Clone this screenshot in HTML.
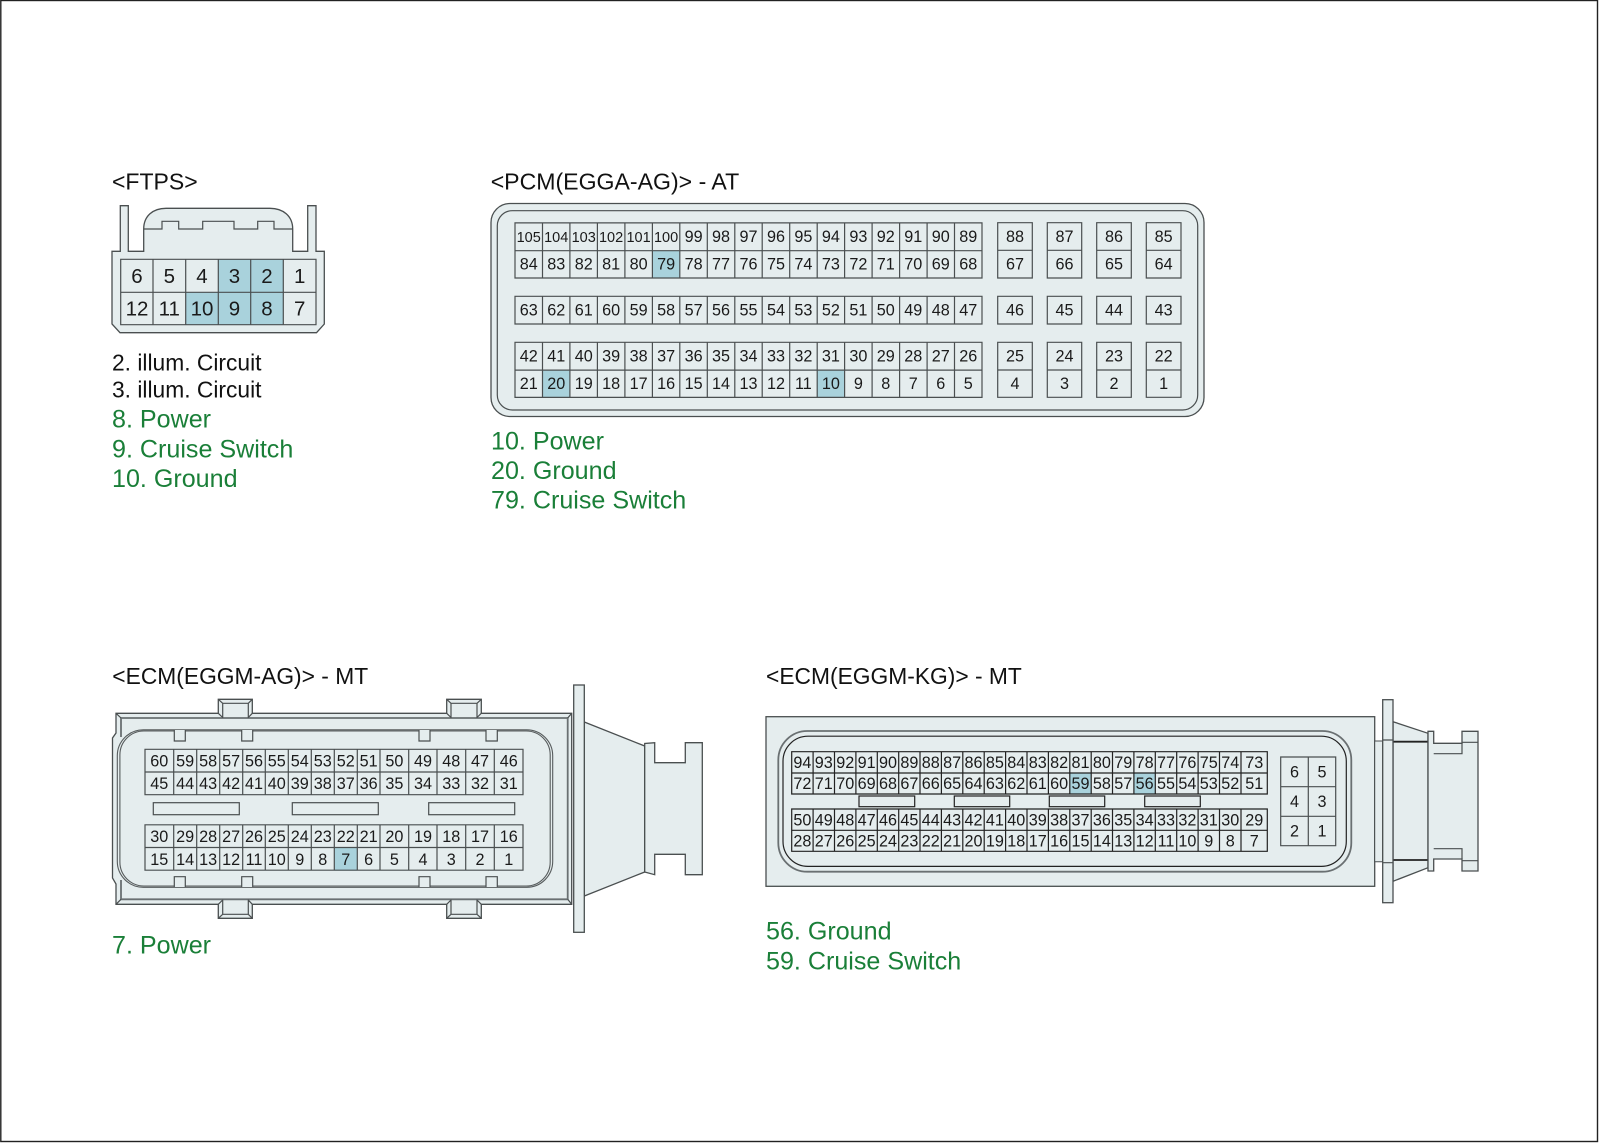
<!DOCTYPE html>
<html><head><meta charset="utf-8">
<style>
html,body{margin:0;padding:0;background:#fff}
svg{display:block}
text{font-family:"Liberation Sans",sans-serif}
.n text{text-anchor:middle;font-size:16.2px;fill:#1a1a1a}
.s text{font-size:14.5px}
.f text{font-size:20.5px}
.h{font-size:22.8px;fill:#111}
.g{font-size:25.1px;fill:#1a7f38}
.b{fill:#e5edee;stroke:#4a4f50;stroke-width:1.3}
.l{fill:none;stroke:#4a4f50;stroke-width:1.2}
.k{fill:none;stroke:#222;stroke-width:1.2}
.t{fill:none;stroke:#6a7072;stroke-width:1.8}
.hl{fill:#a9d2dc}
</style></head><body>
<svg width="1600" height="1143" viewBox="0 0 1600 1143" xmlns="http://www.w3.org/2000/svg">
<rect width="1600" height="1143" fill="#fff"/>
<rect x="0.8" y="0.5" width="1596.7" height="1141" fill="none" stroke="#222" stroke-width="1.4"/>

<!-- FTPS -->
<path class="b" d="M120.3 252V205.7H128.3V251.3H143.7V229C143.7 216 153 208.3 166 208.3H270C283 208.3 292.7 216 292.7 229V251.3H307.7V205.7H316V251.3H324.3V324L316.5 332.7H120L112 324V251.3H120.3Z"/>
<path class="l" d="M143.7 229H162V221.3H178.7V229H202.7V221.3H234V229H257.7V221.3H274V229H292.7"/>
<rect class="hl" x="218.3" y="259.3" width="65" height="33"/>
<rect class="hl" x="185.7" y="292.3" width="97.6" height="32.4"/>
<path class="l" d="M120.7 259.3H316V324.7H120.7ZM120.7 292.3H316M153 259.3V324.7M185.7 259.3V324.7M218.3 259.3V324.7M250.7 259.3V324.7M283.3 259.3V324.7"/>
<g class="n f">
<g transform="translate(0,282.8)"><text x="137">6</text><text x="169.3">5</text><text x="202">4</text><text x="234.5">3</text><text x="267">2</text><text x="299.7">1</text></g>
<g transform="translate(0,315.5)"><text x="137">12</text><text x="169.3">11</text><text x="202">10</text><text x="234.5">9</text><text x="267">8</text><text x="299.7">7</text></g>
</g>
<text class="h" x="112" y="189.3" style="font-size:23px">&lt;FTPS&gt;</text>
<text class="h" x="112" y="370.3">2. illum. Circuit</text>
<text class="h" x="112" y="397.7">3. illum. Circuit</text>
<text class="g" x="112" y="427.7">8. Power</text>
<text class="g" x="112" y="457.3">9. Cruise Switch</text>
<text class="g" x="112" y="487">10. Ground</text>

<!-- PCM -->
<rect class="b" x="491" y="203.5" width="713" height="213" rx="19"/>
<rect class="l" x="497.3" y="210.7" width="700.4" height="199.3" rx="15"/>
<rect class="hl" x="652.4" y="250.7" width="27.4" height="27.3"/>
<rect class="hl" x="542.5" y="370" width="27.4" height="27.3"/>
<rect class="hl" x="817.2" y="370" width="27.4" height="27.3"/>
<path id="pv" class="l" d="M515 222.9H982V278H515ZM515 250.7H982M542.5 222.9V278M569.9 222.9V278M597.4 222.9V278M624.9 222.9V278M652.4 222.9V278M679.8 222.9V278M707.3 222.9V278M734.8 222.9V278M762.2 222.9V278M789.7 222.9V278M817.2 222.9V278M844.6 222.9V278M872.1 222.9V278M899.6 222.9V278M927.1 222.9V278M954.5 222.9V278"/>
<use href="#pv" y="119.4"/>
<path class="l" d="M515 296.3H982V324H515ZM542.5 296.3V324M569.9 296.3V324M597.4 296.3V324M624.9 296.3V324M652.4 296.3V324M679.8 296.3V324M707.3 296.3V324M734.8 296.3V324M762.2 296.3V324M789.7 296.3V324M817.2 296.3V324M844.6 296.3V324M872.1 296.3V324M899.6 296.3V324M927.1 296.3V324M954.5 296.3V324"/>
<path class="l" d="M997.7 222.7H1032.3V278H997.7ZM997.7 250.3H1032.3M1047.3 222.7H1081.7V278H1047.3ZM1047.3 250.3H1081.7M1096.7 222.7H1131.3V278H1096.7ZM1096.7 250.3H1131.3M1146.3 222.7H1181V278H1146.3ZM1146.3 250.3H1181"/>
<path class="l" d="M997.7 296.3H1032.3V324H997.7ZM1047.3 296.3H1081.7V324H1047.3ZM1096.7 296.3H1131.3V324H1096.7ZM1146.3 296.3H1181V324H1146.3Z"/>
<path class="l" d="M997.7 342.3H1032.3V397.3H997.7ZM997.7 370H1032.3M1047.3 342.3H1081.7V397.3H1047.3ZM1047.3 370H1081.7M1096.7 342.3H1131.3V397.3H1096.7ZM1096.7 370H1131.3M1146.3 342.3H1181V397.3H1146.3ZM1146.3 370H1181"/>
<g class="n">
<g transform="translate(0,242)"><g class="s"><text x="528.7">105</text><text x="556.2">104</text><text x="583.7">103</text><text x="611.1">102</text><text x="638.6">101</text><text x="666.1">100</text></g><text x="693.6">99</text><text x="721">98</text><text x="748.5">97</text><text x="776">96</text><text x="803.4">95</text><text x="830.9">94</text><text x="858.4">93</text><text x="885.8">92</text><text x="913.3">91</text><text x="940.8">90</text><text x="968.3">89</text><text x="1015">88</text><text x="1064.5">87</text><text x="1114">86</text><text x="1163.6">85</text></g>
<g transform="translate(0,269.7)"><text x="528.7">84</text><text x="556.2">83</text><text x="583.7">82</text><text x="611.1">81</text><text x="638.6">80</text><text x="666.1">79</text><text x="693.6">78</text><text x="721">77</text><text x="748.5">76</text><text x="776">75</text><text x="803.4">74</text><text x="830.9">73</text><text x="858.4">72</text><text x="885.8">71</text><text x="913.3">70</text><text x="940.8">69</text><text x="968.3">68</text><text x="1015">67</text><text x="1064.5">66</text><text x="1114">65</text><text x="1163.6">64</text></g>
<g transform="translate(0,315.7)"><text x="528.7">63</text><text x="556.2">62</text><text x="583.7">61</text><text x="611.1">60</text><text x="638.6">59</text><text x="666.1">58</text><text x="693.6">57</text><text x="721">56</text><text x="748.5">55</text><text x="776">54</text><text x="803.4">53</text><text x="830.9">52</text><text x="858.4">51</text><text x="885.8">50</text><text x="913.3">49</text><text x="940.8">48</text><text x="968.3">47</text><text x="1015">46</text><text x="1064.5">45</text><text x="1114">44</text><text x="1163.6">43</text></g>
<g transform="translate(0,361.7)"><text x="528.7">42</text><text x="556.2">41</text><text x="583.7">40</text><text x="611.1">39</text><text x="638.6">38</text><text x="666.1">37</text><text x="693.6">36</text><text x="721">35</text><text x="748.5">34</text><text x="776">33</text><text x="803.4">32</text><text x="830.9">31</text><text x="858.4">30</text><text x="885.8">29</text><text x="913.3">28</text><text x="940.8">27</text><text x="968.3">26</text><text x="1015">25</text><text x="1064.5">24</text><text x="1114">23</text><text x="1163.6">22</text></g>
<g transform="translate(0,389.2)"><text x="528.7">21</text><text x="556.2">20</text><text x="583.7">19</text><text x="611.1">18</text><text x="638.6">17</text><text x="666.1">16</text><text x="693.6">15</text><text x="721">14</text><text x="748.5">13</text><text x="776">12</text><text x="803.4">11</text><text x="830.9">10</text><text x="858.4">9</text><text x="885.8">8</text><text x="913.3">7</text><text x="940.8">6</text><text x="968.3">5</text><text x="1015">4</text><text x="1064.5">3</text><text x="1114">2</text><text x="1163.6">1</text></g>
</g>
<text class="h" x="490.7" y="189.3" style="font-size:23.1px">&lt;PCM(EGGA-AG)&gt; - AT</text>
<text class="g" x="491" y="449.3">10. Power</text>
<text class="g" x="491" y="479">20. Ground</text>
<text class="g" x="491" y="508.3">79. Cruise Switch</text>

<!-- ECM AG -->
<path class="b" d="M218.3 713.3V699.3H252.3V713.3H446.7V699.3H481.3V713.3H571.7V904.3H481.3V918.3H446.7V904.3H252.3V918.3H218.3V904.3H116V884L112.5 878V738L116 733V713.3Z"/>
<path class="t" d="M121 737V718H567.7V899.3H121V880"/>
<path d="M116 713.3L121 718M571.7 713.3L567.7 718M571.7 904.3L567.7 899.3M116 904.3L121 899.3" class="l"/>
<path d="M222.7 718V703.3H248.3V718M218.3 699.3L222.7 703.3M252.3 699.3L248.3 703.3M218.3 713.3L222.7 717.5M252.3 713.3L248.3 717.5M451 718V703.3H477V718M446.7 699.3L451 703.3M481.3 699.3L477 703.3M446.7 713.3L451 717.5M481.3 713.3L477 717.5M222.7 899.5V914.3H248.3V899.5M218.3 918.3L222.7 914.3M252.3 918.3L248.3 914.3M218.3 904.3L222.7 900M252.3 904.3L248.3 900M451 899.5V914.3H477V899.5M446.7 918.3L451 914.3M481.3 918.3L477 914.3M446.7 904.3L451 900M481.3 904.3L477 900" class="l"/>
<path d="M219 713.5H252V717.2H219ZM447.5 713.5H480.5V717.2H447.5ZM219 900.5H252V904H219ZM447.5 900.5H480.5V904H447.5Z" fill="#e5edee" opacity="0"/>
<rect x="117.3" y="729.8" width="435.4" height="157.5" rx="26" fill="none" stroke="#565b5c" stroke-width="1.1"/>
<rect x="119.9" y="731" width="430.3" height="155" rx="24" fill="none" stroke="#565b5c" stroke-width="1.1"/>
<path class="l" d="M174.3 730V741H185.3V730M241.7 730V741H252.7V730M419 730V741H430V730M486 730V741H497.3V730M174.3 887V876.7H185.3V887M241.7 887V876.7H252.7V887M419 887V876.7H430V887M486 887V876.7H497.3V887" style="fill:#e5edee"/>
<rect class="hl" x="334.3" y="848" width="23" height="22.7"/>
<path id="av" class="l" d="M145 749.3H523V794.7H145ZM145 772H523M173.7 749.3V794.7M196.7 749.3V794.7M219.7 749.3V794.7M242.7 749.3V794.7M265.3 749.3V794.7M288.3 749.3V794.7M311.3 749.3V794.7M334.3 749.3V794.7M357.3 749.3V794.7M380 749.3V794.7M408.7 749.3V794.7M437 749.3V794.7M465.7 749.3V794.7M494.3 749.3V794.7"/>
<use href="#av" y="75.5"/>
<rect class="l" x="153.3" y="802.7" width="86" height="12"/>
<rect class="l" x="292.3" y="802.7" width="86" height="12"/>
<rect class="l" x="428.7" y="802.7" width="86" height="12"/>
<path class="b" d="M584.3 722L644.7 746V872L584.3 896Z"/>
<path class="b" d="M644.7 746V743.5L654.7 742.7V762.7H685.3V742.7H702.3V874.7H685.3V854.3H654.7V874.7L644.7 872Z"/>
<rect class="b" x="573.7" y="685" width="10.6" height="247.3"/>
<g class="n">
<g transform="translate(0,766.4)"><text x="159.3">60</text><text x="185.1">59</text><text x="208.1">58</text><text x="231.1">57</text><text x="254">56</text><text x="276.8">55</text><text x="299.8">54</text><text x="322.8">53</text><text x="345.8">52</text><text x="368.6">51</text><text x="394.4">50</text><text x="423">49</text><text x="451.3">48</text><text x="480">47</text><text x="508.7">46</text></g>
<g transform="translate(0,789)"><text x="159.3">45</text><text x="185.1">44</text><text x="208.1">43</text><text x="231.1">42</text><text x="254">41</text><text x="276.8">40</text><text x="299.8">39</text><text x="322.8">38</text><text x="345.8">37</text><text x="368.6">36</text><text x="394.4">35</text><text x="423">34</text><text x="451.3">33</text><text x="480">32</text><text x="508.7">31</text></g>
<g transform="translate(0,842)"><text x="159.3">30</text><text x="185.1">29</text><text x="208.1">28</text><text x="231.1">27</text><text x="254">26</text><text x="276.8">25</text><text x="299.8">24</text><text x="322.8">23</text><text x="345.8">22</text><text x="368.6">21</text><text x="394.4">20</text><text x="423">19</text><text x="451.3">18</text><text x="480">17</text><text x="508.7">16</text></g>
<g transform="translate(0,865)"><text x="159.3">15</text><text x="185.1">14</text><text x="208.1">13</text><text x="231.1">12</text><text x="254">11</text><text x="276.8">10</text><text x="299.8">9</text><text x="322.8">8</text><text x="345.8">7</text><text x="368.6">6</text><text x="394.4">5</text><text x="423">4</text><text x="451.3">3</text><text x="480">2</text><text x="508.7">1</text></g>
</g>
<text class="h" x="112.3" y="684">&lt;ECM(EGGM-AG)&gt; - MT</text>
<text class="g" x="112" y="953.3">7. Power</text>

<!-- ECM KG -->
<rect class="b" x="766" y="716.7" width="608.7" height="169.6"/>
<rect x="778.3" y="731" width="573" height="140.7" rx="29" fill="none" stroke="#6a7072" stroke-width="1.8"/>
<rect class="k" x="783" y="736.2" width="563.3" height="130.2" rx="25"/>
<rect class="hl" x="1069.8" y="773" width="21.4" height="21"/>
<rect class="hl" x="1133.9" y="773" width="21.4" height="21"/>
<path id="kv" class="k" d="M791.7 751.7H1267.3V794H791.7ZM791.7 773H1267.3M813.1 751.7V794M834.5 751.7V794M855.9 751.7V794M877.3 751.7V794M898.7 751.7V794M920 751.7V794M941.4 751.7V794M962.8 751.7V794M984.2 751.7V794M1005.6 751.7V794M1027 751.7V794M1048.4 751.7V794M1069.8 751.7V794M1091.2 751.7V794M1112.5 751.7V794M1133.9 751.7V794M1155.3 751.7V794M1176.7 751.7V794M1198.1 751.7V794M1219.5 751.7V794M1241 751.7V794"/>
<use href="#kv" y="57.3"/>
<rect class="k" x="859" y="796" width="55.7" height="10.7"/>
<rect class="k" x="954.3" y="796" width="55.4" height="10.7"/>
<rect class="k" x="1049.3" y="796" width="55.4" height="10.7"/>
<rect class="k" x="1144.7" y="796" width="55.6" height="10.7"/>
<path class="l" d="M1280.7 757H1335.7V845.7H1280.7ZM1308.3 757V845.7M1280.7 786.7H1335.7M1280.7 816.3H1335.7"/>
<path class="b" d="M1374.7 741H1382.7V861.7H1374.7Z" style="stroke-width:1"/>
<path class="b" d="M1393 721.7L1428 733.3V867.7L1393 881.3Z"/>
<path class="k" d="M1393 741.7H1428M1393 860H1428" style="stroke-width:1.8"/>
<path class="b" d="M1428 731.3H1433.7V743.3H1462V731.3H1478V871H1462V859H1433.7V871H1428Z"/>
<path class="l" d="M1433.7 753.7H1462V743.3M1433.7 848.7H1462V859M1462 742.3H1478M1462 860.7H1478"/>
<rect class="b" x="1382.7" y="699.7" width="10.3" height="203"/>
<path class="l" d="M1382.7 740H1393M1382.7 862.7H1393"/>
<g class="n">
<g transform="translate(0,768)"><text x="802.4">94</text><text x="823.8">93</text><text x="845.2">92</text><text x="866.6">91</text><text x="888">90</text><text x="909.4">89</text><text x="930.7">88</text><text x="952.1">87</text><text x="973.5">86</text><text x="994.9">85</text><text x="1016.3">84</text><text x="1037.7">83</text><text x="1059.1">82</text><text x="1080.5">81</text><text x="1101.9">80</text><text x="1123.2">79</text><text x="1144.6">78</text><text x="1166">77</text><text x="1187.4">76</text><text x="1208.8">75</text><text x="1230.2">74</text><text x="1254.2">73</text></g>
<g transform="translate(0,789.2)"><text x="802.4">72</text><text x="823.8">71</text><text x="845.2">70</text><text x="866.6">69</text><text x="888">68</text><text x="909.4">67</text><text x="930.7">66</text><text x="952.1">65</text><text x="973.5">64</text><text x="994.9">63</text><text x="1016.3">62</text><text x="1037.7">61</text><text x="1059.1">60</text><text x="1080.5">59</text><text x="1101.9">58</text><text x="1123.2">57</text><text x="1144.6">56</text><text x="1166">55</text><text x="1187.4">54</text><text x="1208.8">53</text><text x="1230.2">52</text><text x="1254.2">51</text></g>
<g transform="translate(0,825.4)"><text x="802.4">50</text><text x="823.8">49</text><text x="845.2">48</text><text x="866.6">47</text><text x="888">46</text><text x="909.4">45</text><text x="930.7">44</text><text x="952.1">43</text><text x="973.5">42</text><text x="994.9">41</text><text x="1016.3">40</text><text x="1037.7">39</text><text x="1059.1">38</text><text x="1080.5">37</text><text x="1101.9">36</text><text x="1123.2">35</text><text x="1144.6">34</text><text x="1166">33</text><text x="1187.4">32</text><text x="1208.8">31</text><text x="1230.2">30</text><text x="1254.2">29</text></g>
<g transform="translate(0,846.5)"><text x="802.4">28</text><text x="823.8">27</text><text x="845.2">26</text><text x="866.6">25</text><text x="888">24</text><text x="909.4">23</text><text x="930.7">22</text><text x="952.1">21</text><text x="973.5">20</text><text x="994.9">19</text><text x="1016.3">18</text><text x="1037.7">17</text><text x="1059.1">16</text><text x="1080.5">15</text><text x="1101.9">14</text><text x="1123.2">13</text><text x="1144.6">12</text><text x="1166">11</text><text x="1187.4">10</text><text x="1208.8">9</text><text x="1230.2">8</text><text x="1254.2">7</text></g>
<text x="1294.5" y="777.5">6</text><text x="1322" y="777.5">5</text>
<text x="1294.5" y="807.2">4</text><text x="1322" y="807.2">3</text>
<text x="1294.5" y="836.7">2</text><text x="1322" y="836.7">1</text>
</g>
<text class="h" x="766" y="684">&lt;ECM(EGGM-KG)&gt; - MT</text>
<text class="g" x="766" y="939.3">56. Ground</text>
<text class="g" x="766" y="969.3">59. Cruise Switch</text>
</svg>
</body></html>
